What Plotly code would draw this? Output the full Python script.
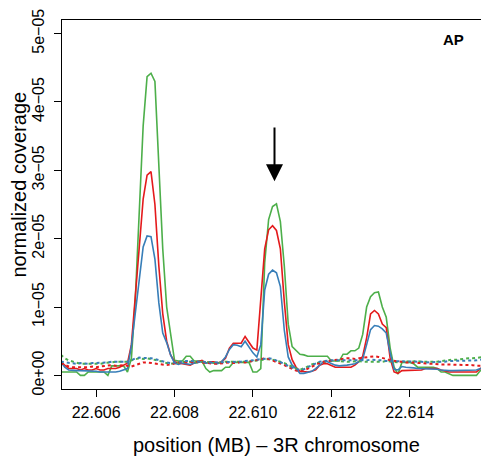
import plotly.graph_objects as go

SCALE = 1e-5  # values below are in units of 1e-05

# genomic position grid (MB)
x_start = 22.6051
x_step = 0.0001
positions = [round(x_start + i * x_step, 5) for i in range(110)]

green_solid = [
    0.05, 0.05, 0.05, 0.05, 0.05, 0.0, 0.0, 0.05, 0.05, 0.05,
    0.05, 0.05, 0.0, 0.14, 0.14, 0.14, 0.14, 0.05, 0.25, 1.12,
    2.45, 3.65, 4.37, 4.42, 4.30, 3.05, 1.85, 1.0, 0.62, 0.22,
    0.21, 0.21, 0.28, 0.28, 0.21, 0.21, 0.21, 0.10, 0.05, 0.07,
    0.07, 0.07, 0.12, 0.12, 0.19, 0.19, 0.19, 0.19, 0.19, 0.05,
    0.05, 0.10, 1.65, 2.28, 2.47, 2.51, 2.25, 1.60, 0.75, 0.42,
    0.36, 0.31, 0.30, 0.28, 0.28, 0.28, 0.28, 0.28, 0.28, 0.21,
    0.21, 0.21, 0.31, 0.31, 0.36, 0.36, 0.40, 0.60, 1.0, 1.15,
    1.21, 1.22, 1.0, 0.85, 0.40, 0.12, 0.02, 0.19, 0.19, 0.19,
    0.17, 0.12, 0.12, 0.12, 0.12, 0.12, 0.10, 0.05, 0.05, 0.03,
    0.0, 0.0, 0.0, 0.0, 0.0, 0.0, 0.0, 0.07, 0.07, 0.07,
]
red_solid = [
    0.20, 0.15, 0.10, 0.10, 0.10, 0.08, 0.10, 0.08, 0.08, 0.10,
    0.08, 0.08, 0.10, 0.10, 0.10, 0.12, 0.15, 0.18, 0.45, 1.20,
    1.95, 2.58, 2.93, 2.98, 2.50, 1.60, 0.90, 0.50, 0.30, 0.20,
    0.18, 0.17, 0.15, 0.15, 0.18, 0.20, 0.22, 0.18, 0.20, 0.20,
    0.18, 0.20, 0.25, 0.40, 0.47, 0.47, 0.47, 0.57, 0.48, 0.40,
    0.37, 1.15, 1.85, 2.13, 2.19, 2.12, 1.85, 1.08, 0.45, 0.23,
    0.12, 0.06, 0.05, 0.05, 0.06, 0.08, 0.15, 0.17, 0.17, 0.15,
    0.12, 0.12, 0.12, 0.12, 0.12, 0.15, 0.20, 0.28, 0.55, 0.90,
    0.95, 0.90, 0.75, 0.70, 0.25, 0.05, 0.03, 0.07, 0.07, 0.07,
    0.07, 0.08, 0.08, 0.10, 0.10, 0.10, 0.10, 0.08, 0.06, 0.05,
    0.05, 0.05, 0.05, 0.05, 0.05, 0.05, 0.05, 0.10, 0.12, 0.12,
]
blue_solid = [
    0.20, 0.12, 0.08, 0.07, 0.07, 0.07, 0.07, 0.07, 0.06, 0.06,
    0.05, 0.05, 0.04, 0.05, 0.05, 0.06, 0.08, 0.10, 0.43, 0.92,
    1.48, 1.88, 2.04, 2.03, 1.70, 1.06, 0.62, 0.48, 0.30, 0.18,
    0.16, 0.18, 0.17, 0.16, 0.18, 0.19, 0.20, 0.18, 0.19, 0.18,
    0.17, 0.20, 0.27, 0.38, 0.45, 0.44, 0.42, 0.50, 0.42, 0.33,
    0.27, 0.45, 1.25, 1.48, 1.54, 1.50, 1.30, 0.66, 0.27, 0.15,
    0.10, 0.03, 0.03, 0.05, 0.06, 0.10, 0.15, 0.20, 0.20, 0.17,
    0.15, 0.14, 0.14, 0.15, 0.16, 0.17, 0.20, 0.24, 0.45, 0.67,
    0.73, 0.72, 0.68, 0.62, 0.33, 0.09, 0.08, 0.13, 0.12, 0.12,
    0.11, 0.10, 0.10, 0.10, 0.10, 0.10, 0.09, 0.08, 0.07, 0.07,
    0.07, 0.07, 0.07, 0.07, 0.07, 0.07, 0.08, 0.10, 0.10, 0.10,
]
green_dotted = [
    0.30, 0.25, 0.22, 0.20, 0.18, 0.17, 0.17, 0.17, 0.16, 0.16,
    0.17, 0.18, 0.18, 0.19, 0.20, 0.20, 0.19, 0.20, 0.22, 0.24,
    0.25, 0.24, 0.25, 0.24, 0.23, 0.22, 0.20, 0.18, 0.17, 0.18,
    0.19, 0.20, 0.20, 0.20, 0.19, 0.19, 0.20, 0.20, 0.19, 0.18,
    0.18, 0.19, 0.20, 0.20, 0.19, 0.19, 0.19, 0.20, 0.20, 0.21,
    0.22, 0.23, 0.24, 0.24, 0.23, 0.22, 0.20, 0.18, 0.15, 0.12,
    0.10, 0.08, 0.10, 0.13, 0.16, 0.18, 0.19, 0.20, 0.21, 0.22,
    0.22, 0.21, 0.20, 0.20, 0.20, 0.21, 0.21, 0.20, 0.20, 0.20,
    0.19, 0.20, 0.20, 0.21, 0.20, 0.20, 0.19, 0.20, 0.21, 0.20,
    0.21, 0.21, 0.20, 0.20, 0.19, 0.20, 0.20, 0.21, 0.22, 0.22,
    0.23, 0.23, 0.24, 0.24, 0.25, 0.25, 0.26, 0.26, 0.27, 0.27,
]
red_dotted = [
    0.18, 0.15, 0.13, 0.12, 0.12, 0.11, 0.12, 0.12, 0.13, 0.12,
    0.13, 0.14, 0.15, 0.15, 0.14, 0.15, 0.15, 0.14, 0.13, 0.15,
    0.17, 0.19, 0.19, 0.18, 0.17, 0.16, 0.15, 0.15, 0.16, 0.18,
    0.19, 0.19, 0.20, 0.20, 0.19, 0.20, 0.19, 0.18, 0.18, 0.17,
    0.17, 0.18, 0.18, 0.19, 0.18, 0.18, 0.20, 0.19, 0.20, 0.21,
    0.22, 0.23, 0.25, 0.24, 0.22, 0.20, 0.18, 0.15, 0.12, 0.09,
    0.07, 0.06, 0.07, 0.10, 0.13, 0.16, 0.18, 0.20, 0.21, 0.22,
    0.23, 0.24, 0.24, 0.25, 0.25, 0.24, 0.25, 0.26, 0.27, 0.28,
    0.28, 0.27, 0.26, 0.24, 0.22, 0.21, 0.20, 0.20, 0.19, 0.19,
    0.18, 0.18, 0.18, 0.17, 0.17, 0.17, 0.16, 0.16, 0.16, 0.16,
    0.15, 0.15, 0.16, 0.16, 0.15, 0.15, 0.14, 0.14, 0.14, 0.14,
]
blue_dotted = [
    0.20, 0.19, 0.18, 0.17, 0.17, 0.18, 0.17, 0.17, 0.18, 0.18,
    0.19, 0.19, 0.19, 0.20, 0.20, 0.21, 0.21, 0.20, 0.22, 0.25,
    0.26, 0.26, 0.26, 0.25, 0.24, 0.22, 0.21, 0.19, 0.18, 0.19,
    0.20, 0.20, 0.21, 0.21, 0.20, 0.20, 0.20, 0.19, 0.19, 0.19,
    0.19, 0.20, 0.20, 0.20, 0.20, 0.20, 0.20, 0.21, 0.21, 0.22,
    0.23, 0.24, 0.25, 0.25, 0.24, 0.22, 0.20, 0.17, 0.14, 0.11,
    0.09, 0.08, 0.09, 0.12, 0.15, 0.18, 0.20, 0.21, 0.22, 0.22,
    0.22, 0.22, 0.21, 0.21, 0.22, 0.22, 0.22, 0.22, 0.22, 0.23,
    0.23, 0.22, 0.22, 0.21, 0.21, 0.20, 0.20, 0.20, 0.20, 0.20,
    0.20, 0.20, 0.20, 0.19, 0.19, 0.20, 0.20, 0.20, 0.20, 0.21,
    0.21, 0.21, 0.21, 0.22, 0.22, 0.22, 0.22, 0.23, 0.23, 0.23,
]

x_ticks = [22.606, 22.608, 22.610, 22.612, 22.614]
x_tick_labels = ["22.606", "22.608", "22.610", "22.612", "22.614"]
y_ticks = [0, 1e-5, 2e-5, 3e-5, 4e-5, 5e-5]
y_tick_labels = ["0e+00", "1e\u221205", "2e\u221205", "3e\u221205", "4e\u221205", "5e\u221205"]

arrow_x = 22.61055
arrow_tail = 3.65e-5
arrow_tip = 2.84e-5

GREEN = "#4DAF4A"
RED = "#E41A1C"
BLUE = "#377EB8"
FONT = "Liberation Sans, Arial, sans-serif"

fig = go.Figure()
for vals, col in [(green_solid, GREEN), (red_solid, RED), (blue_solid, BLUE)]:
    fig.add_trace(go.Scatter(x=positions, y=[v * SCALE for v in vals], mode="lines",
                             line=dict(color=col, width=1.6), showlegend=False,
                             hoverinfo="skip"))
for vals, col in [(green_dotted, GREEN), (red_dotted, RED), (blue_dotted, BLUE)]:
    fig.add_trace(go.Scatter(x=positions, y=[v * SCALE for v in vals], mode="lines",
                             line=dict(color=col, width=2, dash="dot"), showlegend=False,
                             hoverinfo="skip"))

fig.add_annotation(x=arrow_x, y=arrow_tip, ax=arrow_x, ay=arrow_tail,
                   xref="x", yref="y", axref="x", ayref="y", text="",
                   showarrow=True, arrowhead=2, arrowsize=1.7, arrowwidth=2,
                   arrowcolor="black")
fig.add_annotation(x=1, y=1, xref="paper", yref="paper", xanchor="right", yanchor="top",
                   xshift=-21, yshift=-9, text="<b>AP</b>", showarrow=False,
                   font=dict(family=FONT, size=15, color="black"))
fig.add_annotation(x=0.5, y=0, xref="paper", yref="paper", xanchor="center", yanchor="middle",
                   xshift=2, yshift=-56, text="position (MB) \u2013 3R chromosome",
                   showarrow=False, font=dict(family=FONT, size=20, color="black"))
fig.add_annotation(x=0, y=0.5, xref="paper", yref="paper", xanchor="center", yanchor="middle",
                   xshift=-44, yshift=20, text="normalized coverage", textangle=-90,
                   showarrow=False, font=dict(family=FONT, size=20, color="black"))

# the page body adds an 8px offset, so the figure is 8px smaller on each axis
fig.update_layout(
    width=481, height=453, autosize=False,
    margin=dict(l=54, r=1, t=1, b=72),
    plot_bgcolor="white", paper_bgcolor="white",
    font=dict(family=FONT, size=16, color="black"),
    xaxis=dict(range=[22.60513, 22.61597], tickvals=x_ticks, ticktext=x_tick_labels,
               ticks="outside", ticklen=7, tickwidth=1, tickcolor="black",
               showline=True, linecolor="black", linewidth=1, mirror=True,
               showgrid=False, zeroline=False, ticklabelstandoff=2,
               ticklabeloverflow="allow"),
    yaxis=dict(range=[-0.199e-5, 5.199e-5], tickvals=y_ticks, ticktext=y_tick_labels,
               tickangle=-90, ticks="outside", ticklen=7, tickwidth=1, tickcolor="black",
               showline=True, linecolor="black", linewidth=1, mirror=True,
               showgrid=False, zeroline=False, ticklabelstandoff=4,
               ticklabeloverflow="allow"),
)

fig.write_html("out.html")
